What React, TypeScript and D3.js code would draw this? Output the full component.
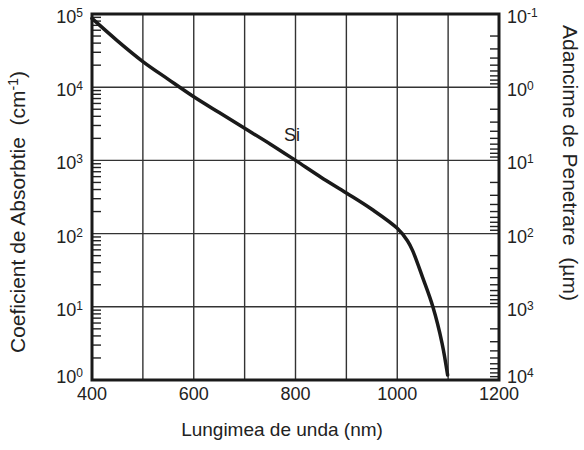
import React from 'react';
import * as d3 from 'd3';

// wavelength (nm) and absorption coefficient (cm^-1) for Si
const wavelengths = [400, 450, 500, 550, 600, 650, 700, 750, 800, 850, 900, 950, 1000, 1020, 1030, 1050, 1070, 1088, 1099];
const absorption = [8.7e4, 4.3e4, 2.24e4, 1.28e4, 7.4e3, 4.5e3, 2.75e3, 1.68e3, 1.0e3, 590, 359, 215, 118, 80, 59, 25, 10, 3.2, 1.17];

const xTicks = [400, 600, 800, 1000, 1200];
const xGrid = [500, 600, 700, 800, 900, 1000, 1100];
const leftExponents = [0, 1, 2, 3, 4, 5];
const rightExponents = [-1, 0, 1, 2, 3, 4];

const width = 584;
const height = 450;
const margin = { top: 14, right: 85, bottom: 70, left: 92 };
const font = '"Liberation Sans", Arial, sans-serif';

const App = () => {
  const x = d3.scaleLinear().domain([400, 1200]).range([margin.left, width - margin.right]);
  const yL = d3.scaleLog().domain([1, 1e5]).range([height - margin.bottom, margin.top]);
  const yR = d3.scaleLog().domain([0.1, 1e4]).range([margin.top, height - margin.bottom]);

  const x0 = x.range()[0];
  const x1 = x.range()[1];
  const yTop = margin.top;
  const yBot = height - margin.bottom;

  const line = d3
    .line<number>()
    .x((_, i) => x(wavelengths[i]))
    .y((d) => yL(d))
    .curve(d3.curveCatmullRom.alpha(0.5));

  // minor ticks 2..9 inside each decade
  const minorL: number[] = [];
  for (let e = 0; e < 5; e++) for (let k = 2; k < 10; k++) minorL.push(k * 10 ** e);
  const minorR: number[] = [];
  for (let e = -1; e < 4; e++) for (let k = 2; k < 10; k++) minorR.push(k * 10 ** e);

  return (
    <svg
      width={width}
      height={height}
      viewBox={`0 0 ${width} ${height}`}
      style={{ position: 'absolute', left: 0, top: 0, background: '#fff' }}
      fontFamily={font}
    >
      {/* grid */}
      <g stroke="#333" strokeWidth={1.4}>
        {xGrid.map((v) => (
          <line key={'gx' + v} x1={x(v)} x2={x(v)} y1={yTop} y2={yBot} />
        ))}
        {leftExponents.slice(1, -1).map((e) => (
          <line key={'gy' + e} x1={x0} x2={x1} y1={yL(10 ** e)} y2={yL(10 ** e)} />
        ))}
      </g>

      {/* minor ticks */}
      <g stroke="#222" strokeWidth={1.4}>
        {minorL.map((v) => (
          <line key={'ml' + v} x1={x0} x2={x0 + 9} y1={yL(v)} y2={yL(v)} />
        ))}
        {minorR.map((v) => (
          <line key={'mr' + v} x1={x1 - 9} x2={x1} y1={yR(v)} y2={yR(v)} />
        ))}
      </g>

      {/* frame */}
      <rect x={x0} y={yTop} width={x1 - x0} height={yBot - yTop} fill="none" stroke="#1a1a1a" strokeWidth={3} />

      {/* curve */}
      <path d={line(absorption) || ''} fill="none" stroke="#1a1a1a" strokeWidth={3.5} strokeLinecap="round" />

      <text x={292} y={141} fontSize={18} textAnchor="middle" fill="#222">
        Si
      </text>

      {/* x tick labels */}
      {xTicks.map((v) => (
        <text key={'xt' + v} x={x(v)} y={400} fontSize={18} textAnchor="middle" fill="#222">
          {v}
        </text>
      ))}

      {/* left tick labels */}
      {leftExponents.map((e, i) => (
        <text key={'yl' + e} x={83} y={yL(10 ** e) + (i === 0 ? 3 : 9)} fontSize={18} textAnchor="end" fill="#222">
          10
          <tspan fontSize={12} dy={-6}>
            {e}
          </tspan>
        </text>
      ))}

      {/* right tick labels */}
      {rightExponents.map((e, i) => (
        <text
          key={'yr' + e}
          x={507}
          y={yR(10 ** e) + (i === rightExponents.length - 1 ? 3 : 9)}
          fontSize={18}
          fill="#222"
        >
          10
          <tspan fontSize={12} dy={-6}>
            {e}
          </tspan>
        </text>
      ))}

      {/* axis titles */}
      <text x={282} y={436} fontSize={19} textAnchor="middle" fill="#222">
        Lungimea de unda (nm)
      </text>
      <text
        transform={`translate(25, 212) rotate(-90)`}
        fontSize={21}
        textAnchor="middle"
        fill="#222"
        style={{ whiteSpace: 'pre' }}
      >
        {'Coeficient de Absorbtie  (cm'}
        <tspan fontSize={14} dy={-7}>
          -1
        </tspan>
        <tspan dy={7}>)</tspan>
      </text>
      <text
        transform={`translate(563, 163) rotate(90)`}
        fontSize={21}
        textAnchor="middle"
        fill="#222"
        style={{ whiteSpace: 'pre' }}
      >
        {'Adancime de Penetrare  (µm)'}
      </text>
    </svg>
  );
};

export default App;
